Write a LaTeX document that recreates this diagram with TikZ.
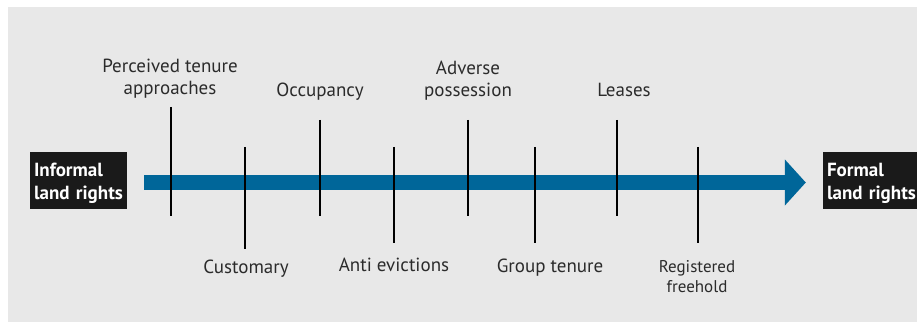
\documentclass[tikz,border=0pt]{standalone}
\usepackage{fontspec}
\setmainfont{PT Sans}
\usetikzlibrary{arrows.meta}
\definecolor{bgc}{HTML}{E8E8E8}
\definecolor{arrc}{HTML}{006699}
\definecolor{boxc}{HTML}{1A1A1A}
\definecolor{txtc}{HTML}{2B2B2B}
\begin{document}
\begin{tikzpicture}[x=1pt,y=-1pt,
  endbox/.style={fill=boxc, text=white, font=\bfseries\fontsize{19}{23}\selectfont,
    align=left, text width=89pt, inner xsep=4pt, inner ysep=0pt, minimum height=57pt},
  tick/.style={line width=1.4pt, draw=black},
  lab/.style={font=\fontsize{19}{22}\selectfont, align=center, text=txtc, inner sep=0pt, anchor=base},
  smalllab/.style={font=\fontsize{17}{20}\selectfont, align=center, text=txtc, inner sep=0pt, anchor=base},
  bigarrow/.style={draw=arrc, line width=15pt, -{Triangle[width=45pt,length=21pt]}}
  ]
\useasboundingbox (0,0) rectangle (917,323);
\fill[bgc] (8,7) rectangle (917,322);

\node[endbox] (inf) at (78.5,180.5) {\rule{0pt}{20pt}Informal\\land rights};
\node[endbox] (form) at (871.5,180.5) {\rule{0pt}{20pt}Formal\\land rights};

\draw[bigarrow] ([xshift=17pt,yshift=-2pt]inf.east) -- ([xshift=-17pt,yshift=-2pt]form.west);

% upper ticks
\coordinate (t1a) at (171,107); \coordinate (t1b) at (171,216);
\coordinate (t3a) at (320,120); \coordinate (t3b) at (320,216);
\coordinate (t5a) at (468,120); \coordinate (t5b) at (468,216);
\coordinate (t7a) at (617,120); \coordinate (t7b) at (617,216);
% lower ticks
\coordinate (t2a) at (245,147); \coordinate (t2b) at (245,249);
\coordinate (t4a) at (394,147); \coordinate (t4b) at (394,243);
\coordinate (t6a) at (535,147); \coordinate (t6b) at (535,243);
\coordinate (t8a) at (698,147); \coordinate (t8b) at (698,243);

\draw[tick] (t1a) -- (t1b);
\draw[tick] (t2a) -- (t2b);
\draw[tick] (t3a) -- (t3b);
\draw[tick] (t4a) -- (t4b);
\draw[tick] (t5a) -- (t5b);
\draw[tick] (t6a) -- (t6b);
\draw[tick] (t7a) -- (t7b);
\draw[tick] (t8a) -- (t8b);

% labels (base = baseline of last line)
\node[lab] (l1) at (170,95) {Perceived tenure\\approaches};
\node[lab] (l3) at (320,97) {Occupancy};
\node[lab] (l5) at (468,97) {Adverse\\possession};
\node[lab] (l7) at (624,97) {Leases};
\node[lab] (l2) at (246,273) {Customary};
\node[lab] (l4) at (394,271) {Anti evictions};
\node[lab] (l6) at (550,272) {Group tenure};
\node[smalllab] (l8) at (697,292) {Registered\\freehold};
\end{tikzpicture}
\end{document}
